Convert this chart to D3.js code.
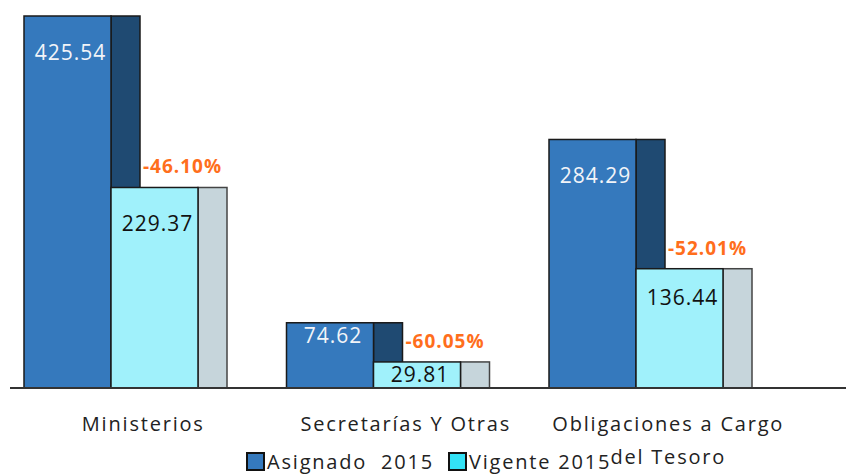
<!DOCTYPE html>
<html>
<head>
<meta charset="utf-8">
<script src="https://cdn.jsdelivr.net/npm/d3@7"></script>
<style>
  body { margin: 0; background: #fff; }
  text { font-family: 'Open Sans', sans-serif; }
</style>
</head>
<body>
<div id="chart"></div>
<script>
(function (d3) {
  'use strict';

  var categories = ['Ministerios', 'Secretarías Y Otras', 'Obligaciones a Cargo del Tesoro'];
  var asignado = [425.54, 74.62, 284.29];
  var vigente = [229.37, 29.81, 136.44];
  var seriesNames = ['Asignado  2015', 'Vigente 2015'];

  var width = 846,
      height = 474,
      baseY = 388,
      barW = 87,
      shadowW = 29;

  var locale = d3.formatLocale({decimal: '.', thousands: ',', grouping: [3], currency: ['', ''], minus: '-'});
  var fmtVal = locale.format('.2f'),
      fmtPct = locale.format('.2%');

  var svg = d3.select('#chart').append('svg')
    .attr('width', width)
    .attr('height', height);

  var x = d3.scaleBand().domain(categories).range([12, 799.5]);
  var y = d3.scaleLinear().domain([0, 425.54]).range([baseY, 16]);

  var data = categories.map(function (c, i) {
    return {cat: c, a: asignado[i], v: vigente[i]};
  });

  var g = svg.selectAll('g.group')
    .data(data)
    .enter().append('g')
      .attr('class', 'group')
      .attr('transform', function (d) { return 'translate(' + (x(d.cat) + 12) + ',0)'; });

  // Asignado bars with their dark side
  g.append('rect')
    .attr('x', barW)
    .attr('y', function (d) { return y(d.a); })
    .attr('width', shadowW)
    .attr('height', function (d) { return baseY - y(d.a); })
    .style('fill', '#1f4a72')
    .style('stroke', '#1a1a1a')
    .style('stroke-width', 1.5);

  g.append('rect')
    .attr('x', 0)
    .attr('y', function (d) { return y(d.a); })
    .attr('width', barW)
    .attr('height', function (d) { return baseY - y(d.a); })
    .style('fill', '#3579bd')
    .style('stroke', '#1a1a1a')
    .style('stroke-width', 1.5);

  // Vigente bars with their grey side
  g.append('rect')
    .attr('x', barW * 2)
    .attr('y', function (d) { return y(d.v); })
    .attr('width', shadowW)
    .attr('height', function (d) { return baseY - y(d.v); })
    .style('fill', '#c6d5db')
    .style('stroke', '#444')
    .style('stroke-width', 1.5);

  g.append('rect')
    .attr('x', barW)
    .attr('y', function (d) { return y(d.v); })
    .attr('width', barW)
    .attr('height', function (d) { return baseY - y(d.v); })
    .style('fill', '#a0f1fb')
    .style('stroke', '#1a1a1a')
    .style('stroke-width', 1.5);

  function labelOffset(h) {
    return Math.min(44, Math.max(20, h * 0.3));
  }

  // value labels
  g.append('text')
    .attr('x', barW / 2 + 3)
    .attr('y', function (d) { return y(d.a) + labelOffset(baseY - y(d.a)); })
    .attr('text-anchor', 'middle')
    .style('font-size', '21px')
    .style('letter-spacing', '1px')
    .style('fill', '#f2f4f8')
    .text(function (d) { return fmtVal(d.a); });

  g.append('text')
    .attr('x', barW * 1.5 + 3)
    .attr('y', function (d) { return y(d.v) + labelOffset(baseY - y(d.v)); })
    .attr('text-anchor', 'middle')
    .style('font-size', '21px')
    .style('letter-spacing', '1px')
    .style('fill', '#111')
    .text(function (d) { return fmtVal(d.v); });

  // percentage change
  g.append('text')
    .attr('x', barW + shadowW + 3)
    .attr('y', function (d) { return y(d.v) - 14; })
    .style('font-size', '19px')
    .style('font-weight', 'bold')
    .style('letter-spacing', '1px')
    .style('fill', '#ff6e1c')
    .text(function (d) { return fmtPct((d.v - d.a) / d.a); });

  // baseline
  svg.append('line')
    .attr('x1', 10).attr('x2', width)
    .attr('y1', baseY).attr('y2', baseY)
    .style('stroke', '#333')
    .style('stroke-width', 2);

  // category labels (wrap the long one)
  svg.selectAll('text.cat')
    .data(categories)
    .enter().append('text')
      .attr('class', 'cat')
      .attr('x', function (d) { return x(d) + x.bandwidth() / 2; })
      .attr('y', 431)
      .attr('text-anchor', 'middle')
      .style('font-size', '20px')
      .style('letter-spacing', '1.8px')
      .style('fill', '#222')
      .each(function (d) {
        var t = d3.select(this);
        var parts = d === categories[2] ? ['Obligaciones a Cargo', 'del Tesoro'] : [d];
        parts.forEach(function (p, i) {
          t.append('tspan')
            .attr('x', t.attr('x'))
            .attr('dy', i === 0 ? 0 : 33)
            .text(p);
        });
      });

  // legend
  var legendColors = ['#3579bd', '#33e2f6'];
  var legendX = [247, 449];
  var lg = svg.selectAll('g.legend')
    .data(seriesNames)
    .enter().append('g')
      .attr('class', 'legend')
      .attr('transform', function (d, i) { return 'translate(' + legendX[i] + ',453)'; });

  lg.append('rect')
    .attr('width', 17)
    .attr('height', 17)
    .style('fill', function (d, i) { return legendColors[i]; })
    .style('stroke', '#111')
    .style('stroke-width', 2);

  lg.append('text')
    .attr('x', 20)
    .attr('y', 16)
    .style('font-size', '20px')
    .style('letter-spacing', '1.8px')
    .style('fill', '#222')
    .style('white-space', 'pre')
    .text(function (d) { return d; });

}(d3));
</script>
</body>
</html>
